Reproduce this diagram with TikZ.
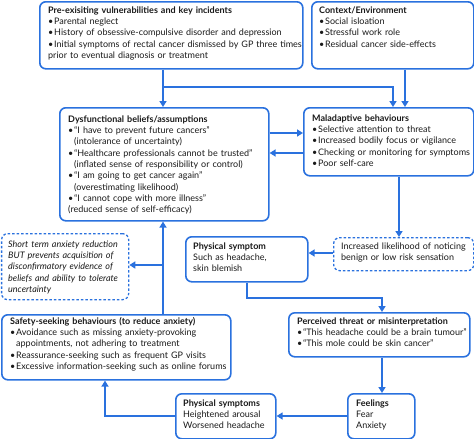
\documentclass[tikz,border=0pt]{standalone}
\usepackage{fontspec}
\setmainfont{Lato}
\usetikzlibrary{arrows.meta}
\definecolor{bmjblue}{RGB}{42,113,222}
\definecolor{txt}{RGB}{25,25,25}
\newcommand{\bl}[1]{\par\hangindent=6pt\hangafter=1\noindent\makebox[6pt][l]{\textbullet}#1}
\begin{document}
\begin{tikzpicture}[x=1pt,y=-1pt,
  box/.style={draw=bmjblue,line width=1.6pt,rounded corners=6pt,anchor=north west,inner sep=0pt},
  dbox/.style={box,dash pattern=on 2.5pt off 2pt,line width=1.3pt},
  tx/.style={anchor=north west,inner sep=0pt,text width=#1,align=left,yshift=7.91pt,
    font=\fontsize{9}{11.3}\selectfont,text=txt},
  tx/.default=260pt,
  arr/.style={draw=bmjblue,line width=1.6pt,-{Triangle[length=6pt,width=7pt]}}]
\useasboundingbox (0,0) rectangle (474,439);
% boxes
\node[box,minimum width=263pt,minimum height=67pt] (pre) at (39,1) {};
\node[box,minimum width=162pt,minimum height=67pt] (ctx) at (311,1) {};
\node[box,minimum width=209pt,minimum height=113pt] (dys) at (59,107) {};
\node[box,minimum width=170pt,minimum height=68pt] (mal) at (303,107) {};
\node[dbox,minimum width=140pt,minimum height=33pt] (inc) at (333,237) {};
\node[dbox,minimum width=127pt,minimum height=66pt] (short) at (1,233) {};
\node[box,minimum width=122pt,minimum height=45pt] (phys1) at (185,236) {};
\node[box,minimum width=229pt,minimum height=65pt] (safe) at (1,314) {};
\node[box,minimum width=181pt,minimum height=44pt] (perc) at (288,312) {};
\node[box,minimum width=67pt,minimum height=45pt] (feel) at (347,393) {};
\node[box,minimum width=100pt,minimum height=45pt] (phys2) at (175,393) {};
% texts
\node[tx] (tpre) at (48,13) {\strut\textbf{Pre-exisiting vulnerabilities and key incidents}
\bl{Parental neglect}
\bl{History of obsessive-compulsive disorder and depression}
\bl{Initial symptoms of rectal cancer dismissed by GP three times\newline prior to eventual diagnosis or treatment}};
\node[tx] (tctx) at (319,13) {\strut\textbf{Context/Environment}
\bl{Social isloation}
\bl{Stressful work role}
\bl{Residual cancer side-effects}};
\node[tx] (tdys) at (68,122) {\strut\textbf{Dysfunctional beliefs/assumptions}
\bl{“I have to prevent future cancers”\newline(intolerance of uncertainty)}
\bl{“Healthcare professionals cannot be trusted”\newline(inflated sense of responsibility or control)}
\bl{“I am going to get cancer again”\newline(overestimating likelihood)}
\bl{“I cannot cope with more illness”\newline(reduced sense of self-efficacy)}};
\node[tx] (tmal) at (312,121) {\strut\textbf{Maladaptive behaviours}
\bl{Selective attention to threat}
\bl{Increased bodily focus or vigilance}
\bl{Checking or monitoring for symptoms}
\bl{Poor self-care}};
\node[tx] (tinc) at (341,249) {\strut Increased likelihood of noticing\\benign or low risk sensation};
\node[tx] (tphys1) at (193,249) {\strut\textbf{Physical symptom}\\Such as headache,\\skin blemish};
\node[tx] (tshort) at (8,247) {\strut\itshape Short term anxiety reduction\\BUT prevents acquisition of\\disconfirmatory evidence of\\beliefs and ability to tolerate\\uncertainty};
\node[tx] (tsafe) at (10,324) {\strut\textbf{Safety-seeking behaviours (to reduce anxiety)}
\bl{Avoidance such as missing anxiety-provoking\newline appointments, not adhering to treatment}
\bl{Reassurance-seeking such as frequent GP visits}
\bl{Excessive information-seeking such as online forums}};
\node[tx] (tperc) at (297,324) {\strut\textbf{Perceived threat or misinterpretation}
\bl{“This headache could be a brain tumour”}
\bl{“This mole could be skin cancer”}};
\node[tx] (tfeel) at (356,406) {\strut\textbf{Feelings}\\Fear\\Anxiety};
\node[tx] (tphys2) at (183,406) {\strut\textbf{Physical symptoms}\\Heightened arousal\\Worsened headache};
% guide coordinates
\coordinate (xa) at (163,0);
\coordinate (xb) at (393,0);
\coordinate (xc) at (405,0);
\coordinate (xd) at (399,0);
\coordinate (xe) at (247,0);
\coordinate (xf) at (382,0);
\coordinate (xg) at (105,0);
\coordinate (ya) at (0,133);
\coordinate (yb) at (0,153);
\coordinate (yc) at (0,253);
\coordinate (yd) at (0,416);
\coordinate (j1) at (163,87);
\coordinate (j2) at (163,265);
\coordinate (j3) at (247,298);
% connectors
\draw[arr] (pre.south -| xa) -- (dys.north -| xa);
\draw[arr] (j1) -| (mal.north -| xb);
\draw[arr] (ctx.south -| xc) -- (mal.north -| xc);
\draw[arr] (dys.east |- ya) -- (mal.west |- ya);
\draw[arr] (mal.west |- yb) -- (dys.east |- yb);
\draw[arr] (mal.south -| xd) -- (inc.north -| xd);
\draw[arr] (inc.west |- yc) -- (phys1.east |- yc);
\draw[arr] (phys1.south -| xe) -- (j3) -| (perc.north -| xf);
\draw[arr] (perc.south -| xf) -- (feel.north -| xf);
\draw[arr] (feel.west |- yd) -- (phys2.east |- yd);
\draw[arr] (phys2.west |- yd) -| (safe.south -| xg);
\draw[arr] (safe.north -| xa) -- (dys.south -| xa);
\draw[arr] (j2) -- (short.east |- j2);
\end{tikzpicture}
\end{document}
